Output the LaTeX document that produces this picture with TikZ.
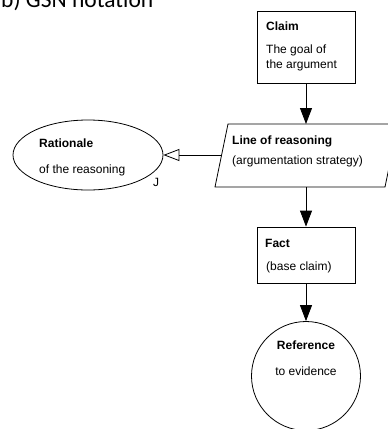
\documentclass[tikz,border=0pt]{standalone}
\usepackage{fontspec}
\setmainfont{Liberation Sans}
\newfontfamily\titlefont{Carlito}
\usetikzlibrary{arrows.meta,shapes.geometric}

\begin{document}
\begin{tikzpicture}[x=1pt,y=-1pt,
  shapeline/.style={draw=black,line width=0.8pt},
  gsnbox/.style={shapeline,rectangle,inner sep=0pt},
  label/.style={font=\fontsize{12pt}{14pt}\selectfont,inner sep=0pt},
  heading/.style={label,font=\fontsize{12pt}{14pt}\selectfont\bfseries},
  solved/.style={shapeline,-{Triangle[length=16pt,width=12pt]}},
  context/.style={shapeline,-{Triangle[open,length=16pt,width=12pt]}}
]
\clip (0,0) rectangle (388,429);
\fill[white] (0,0) rectangle (388,429);

% title
\node[anchor=base west,inner sep=0pt,font=\titlefont\fontsize{23.5pt}{26pt}\selectfont]
  (title) at (1,7.5) {b) GSN notation};

% goal
\node[gsnbox,minimum width=98pt,minimum height=72pt] (claim) at (306,47) {};
\node[heading,anchor=west] (claimhead) at (266,26) {Claim};
\node[label,anchor=west] (claimtxt1) at (266,50) {The goal of};
\node[label,anchor=west] (claimtxt2) at (266,65) {the argument};

% strategy (parallelogram)
\coordinate (lortl) at (228,124);
\coordinate (lortr) at (398,124);
\coordinate (lorbr) at (385,187);
\coordinate (lorbl) at (215,187);
\draw[shapeline] (lortl) -- (lortr) -- (lorbr) -- (lorbl) -- cycle;
\coordinate (lortop) at (306,124);
\coordinate (lorbot) at (306,187);
\coordinate (lorleft) at (221.6,155);
\node[heading,anchor=west] (lorhead) at (232,141) {Line of reasoning};
\node[label,anchor=west] (lortxt) at (232,161) {(argumentation strategy)};

% justification
\node[shapeline,ellipse,minimum width=150pt,minimum height=70pt,inner sep=0pt]
  (rat) at (88,155) {};
\node[heading,anchor=west] (rathead) at (39,143) {Rationale};
\node[label,anchor=west] (rattxt) at (39,170) {of the reasoning};
\node[label] (jmark) at (156,182) {J};

% solution context
\node[gsnbox,minimum width=98pt,minimum height=56pt] (fact) at (306,255) {};
\node[heading,anchor=west] (facthead) at (265,243) {Fact};
\node[label,anchor=west] (facttxt) at (266,267) {(base claim)};

% evidence
\node[shapeline,circle,minimum size=109pt,inner sep=0pt] (ref) at (306,376) {};
\node[heading] (refhead) at (306,345) {Reference};
\node[label] (reftxt) at (306,371) {to evidence};

% connectors
\draw[solved] (claim.south) -- (lortop);
\draw[solved] (lorbot) -- (fact.north);
\draw[solved] (fact.south) -- (ref.north);
\draw[context] (lorleft) -- (rat.east);
\end{tikzpicture}
\end{document}
